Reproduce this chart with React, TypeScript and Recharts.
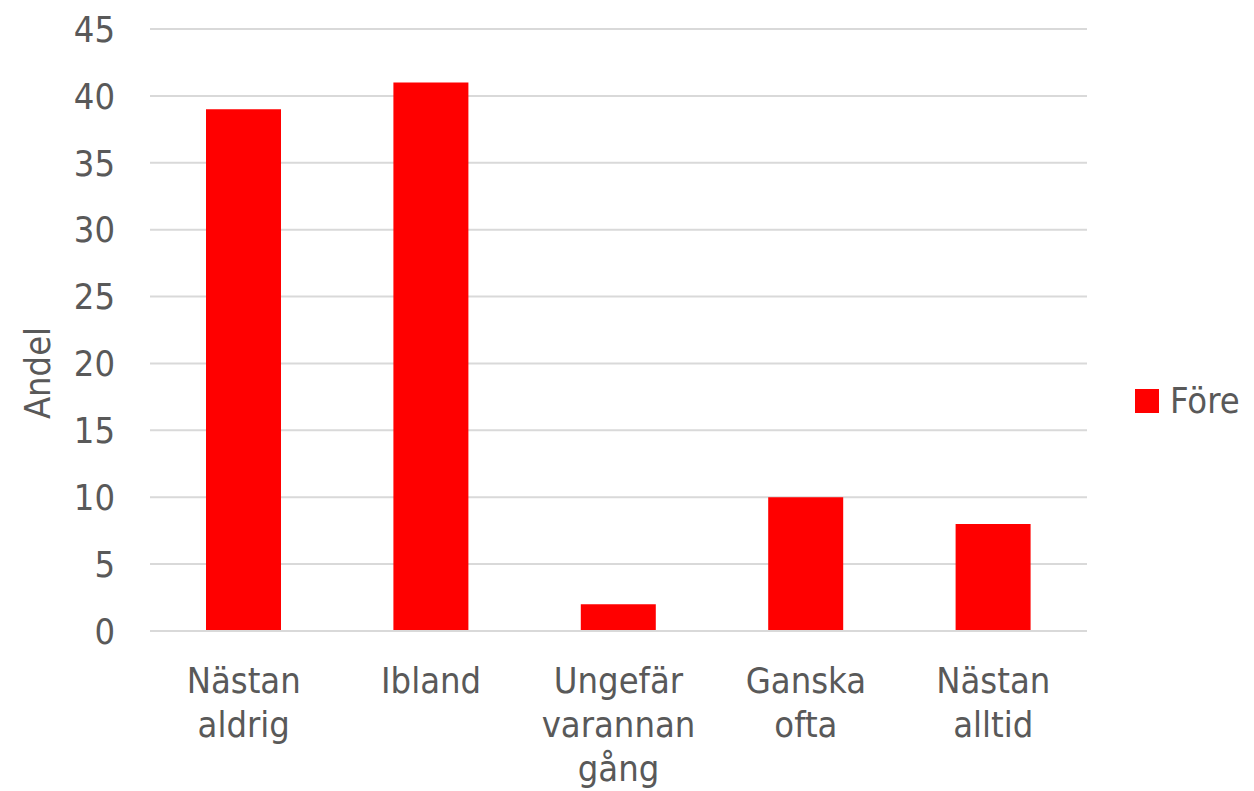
import React from 'react';
import { BarChart, Bar, XAxis, YAxis, CartesianGrid } from 'recharts';

const categories = ['Nästan aldrig', 'Ibland', 'Ungefär varannan gång', 'Ganska ofta', 'Nästan alltid'];
const foreValues = [39, 41, 2, 10, 8];
const yTicks = [0, 5, 10, 15, 20, 25, 30, 35, 40, 45];
const seriesName = 'Före';
const yLabel = 'Andel';

const data = categories.map((c, i) => ({ name: c, fore: foreValues[i] }));

const FONT = "Tahoma, 'DejaVu Sans Condensed', 'DejaVu Sans', sans-serif";
const TEXT = '#595959';
const RED = '#ff0000';

const XTick = (props: any) => {
  const { x, y, payload } = props;
  const words = String(payload.value).split(' ');
  return (
    <text x={x} y={y + 62} textAnchor="middle" fill={TEXT} fontSize={36} fontFamily={FONT}>
      {words.map((w, i) => (
        <tspan key={i} x={x} dy={i === 0 ? 0 : 44}>{w}</tspan>
      ))}
    </text>
  );
};

const YLabel = () => (
  <text
    x={0}
    y={0}
    transform="translate(50,373) rotate(-90)"
    textAnchor="middle"
    fill={TEXT}
    fontSize={36}
    fontFamily={FONT}
  >
    {yLabel}
  </text>
);

export default function App() {
  return (
    <div style={{ position: 'absolute', left: 0, top: 0, width: 1254, height: 791 }}>
      <BarChart
        width={1254}
        height={791}
        data={data}
        margin={{ top: 29, right: 167, bottom: 130, left: 0 }}
      >
        <CartesianGrid vertical={false} stroke="#d9d9d9" strokeWidth={2} />
        <XAxis
          dataKey="name"
          height={30}
          tickLine={false}
          axisLine={{ stroke: '#d9d9d9', strokeWidth: 2 }}
          tickSize={0}
          tickMargin={0}
          interval={0}
          tick={<XTick />}
        />
        <YAxis
          width={150}
          domain={[0, 45]}
          ticks={yTicks}
          interval={0}
          axisLine={false}
          tickLine={false}
          tickMargin={29}
          tick={{ fill: TEXT, fontSize: 36, fontFamily: FONT }}
          label={<YLabel />}
        />
        <Bar dataKey="fore" name={seriesName} fill={RED} barSize={75} isAnimationActive={false} />
      </BarChart>
      <div
        style={{
          position: 'absolute',
          left: 1135,
          top: 380,
          display: 'flex',
          alignItems: 'center',
          fontFamily: FONT,
          fontSize: 36,
          color: TEXT,
          lineHeight: '42px',
        }}
      >
        <div style={{ width: 24, height: 24, background: RED, marginRight: 11 }} />
        <span>{seriesName}</span>
      </div>
    </div>
  );
}
